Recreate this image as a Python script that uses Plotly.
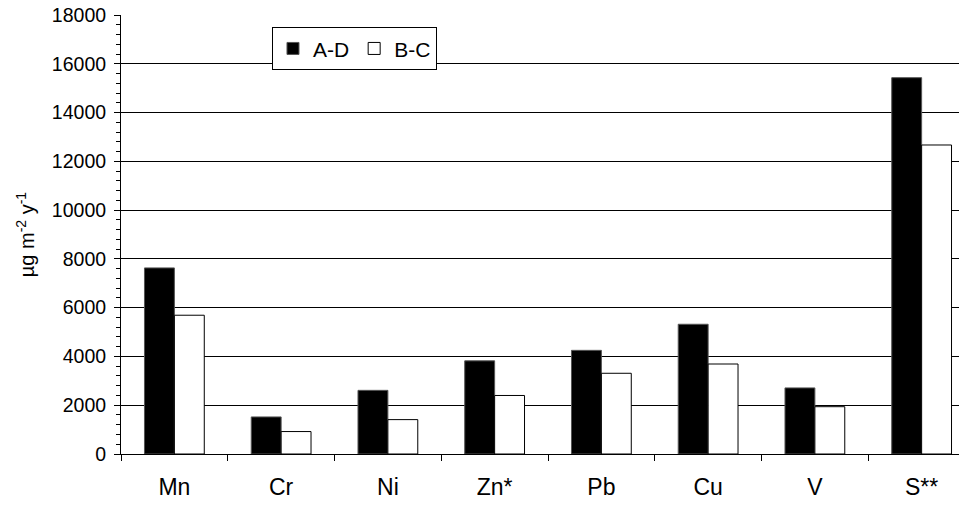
import plotly.graph_objects as go

categories = ["Mn", "Cr", "Ni", "Zn*", "Pb", "Cu", "V", "S**"]
series_ad = [7630, 1520, 2610, 3820, 4250, 5320, 2710, 15430]
series_bc = [5690, 920, 1410, 2400, 3310, 3690, 1940, 12670]
y_ticks = [0, 2000, 4000, 6000, 8000, 10000, 12000, 14000, 16000, 18000]

FONT = "Liberation Sans, Arial, sans-serif"

fig = go.Figure()
fig.add_trace(go.Bar(x=categories, y=series_ad, name="A-D",
                     marker=dict(color="black", line=dict(color="#555555", width=1))))
fig.add_trace(go.Bar(x=categories, y=series_bc, name="B-C",
                     marker=dict(color="white", line=dict(color="black", width=1))))

fig.update_layout(
    width=967, height=506,
    margin=dict(l=113, r=0, t=7, b=60, autoexpand=False),
    paper_bgcolor="white", plot_bgcolor="white",
    barmode="group", bargap=0.44, bargroupgap=0,
    font=dict(family=FONT, color="black"),
    showlegend=True,
    legend=dict(orientation="h", x=0.1768, y=0.972, xanchor="left", yanchor="top",
                bordercolor="black", borderwidth=1, bgcolor="white",
                font=dict(size=21, family=FONT), itemwidth=30,
                tracegroupgap=0),
)
fig.update_xaxes(
    type="category", range=[-0.5, 7.5], automargin=False,
    showline=True, linecolor="black", linewidth=1,
    ticks="outside", tickson="boundaries", ticklen=6, tickcolor="black",
    tickfont=dict(size=23, family=FONT), ticklabelstandoff=12,
    showgrid=False, zeroline=False,
)
fig.update_yaxes(
    range=[0, 18000], tickvals=y_ticks, ticktext=[str(v) for v in y_ticks],
    automargin=False,
    showline=True, linecolor="black", linewidth=1,
    ticks="outside", ticklen=6, tickcolor="black",
    minor=dict(ticks="outside", dtick=400, ticklen=4, tickcolor="black", showgrid=False),
    showgrid=True, gridcolor="black", gridwidth=1,
    zeroline=False, ticklabeloverflow="allow",
    tickfont=dict(size=19.5, family=FONT), ticklabelstandoff=4,
    title=dict(text="µg m<sup>-2</sup> y<sup>-1</sup>", font=dict(size=20, family=FONT), standoff=11),
)
fig.write_html("out.html")
